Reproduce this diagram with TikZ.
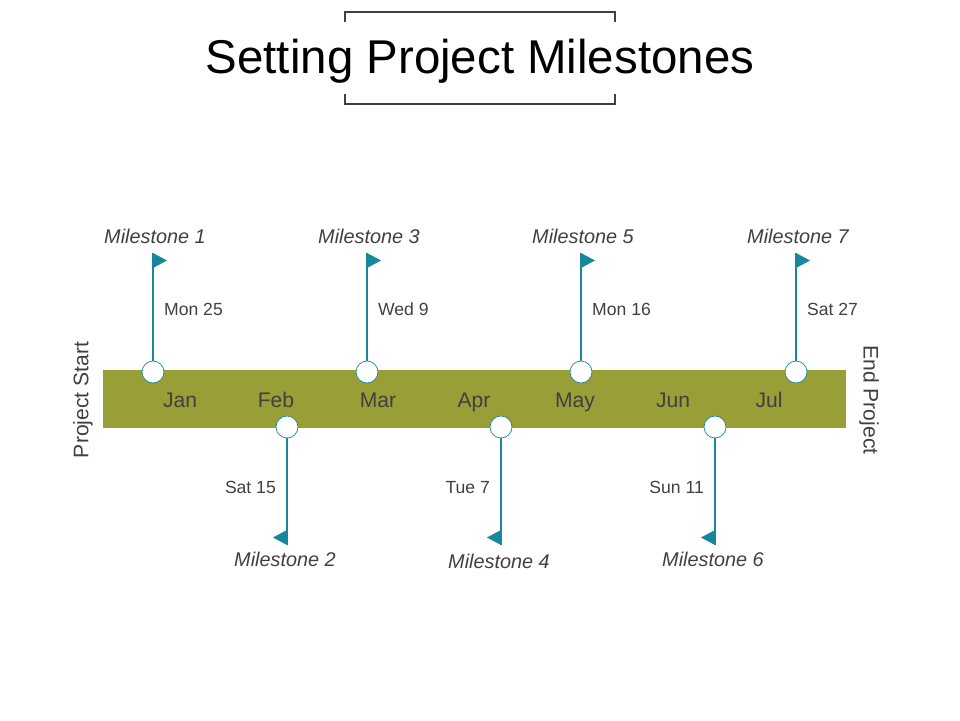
\documentclass[tikz,border=0pt]{standalone}
\usepackage{fontspec}
\setmainfont{Liberation Sans}
\usetikzlibrary{positioning}
\definecolor{oliven}{HTML}{9A9E37}
\definecolor{petrol}{HTML}{17889A}
\definecolor{tekst}{HTML}{404040}

\begin{document}
\begin{tikzpicture}[x=0.02cm,y=-0.02cm]
    \tikzset{
        dot/.style={circle, draw=petrol, fill=white, minimum size=0.44cm, inner sep=0pt},
        stem/.style={draw=petrol, line width=0.8pt},
        flag/.style={fill=petrol},
        mlab/.style={font=\fontsize{11.3}{13}\selectfont\itshape, text=tekst, anchor=base},
        dlab/.style={font=\fontsize{10}{12}\selectfont, text=tekst},
        month/.style={font=\fontsize{12}{14}\selectfont, text=tekst, anchor=base}
    }
    \useasboundingbox (0,0) rectangle (960,720);

    % Tittel
    \node[font=\fontsize{27}{32}\selectfont] (title) at (480,61) {Setting Project Milestones};
    \draw[tekst, line width=1pt] (345,22) -- (345,12) -- (615,12) -- (615,22);
    \draw[tekst, line width=1pt] (345,94) -- (345,104) -- (615,104) -- (615,94);

    % Tidslinje
    \fill[oliven] (103,370) rectangle (846,428);
    \node[rotate=90, font=\fontsize{12}{14}\selectfont, text=tekst] (start) at (83,400) {Project Start};
    \node[rotate=-90, font=\fontsize{12}{14}\selectfont, text=tekst] (end) at (869,400) {End Project};
    \foreach \m/\x in {Jan/180,Feb/276,Mar/378,Apr/474,May/575,Jun/673,Jul/769}
        \node[month] (\m) at (\x,407) {\m};

    % Milepæler over linjen
    \foreach \i/\x/\d in {1/153/Mon 25,3/367/Wed 9,5/581/Mon 16,7/796/Sat 27}{
        \node[dot] (d\i) at (\x,372) {};
        \coordinate (t\i) at (\x,253);
        \draw[stem] (d\i) -- (t\i);
        \fill[flag] (t\i) -- ++(14,7.5) -- ++(-14,7.5) -- cycle;
        \node[dlab, anchor=base west] (date\i) at (\x+5,315) {\d};
        \node[mlab] (ms\i) at (\x+2,243) {Milestone \i};
    }
    % Milepæler under linjen
    \foreach \i/\x/\d/\y in {2/287/Sat 15/566,4/501/Tue 7/568,6/715/Sun 11/566}{
        \node[dot] (d\i) at (\x,427) {};
        \coordinate (b\i) at (\x,545);
        \draw[stem] (d\i) -- (b\i);
        \fill[flag] (b\i) -- ++(-14,-7.5) -- ++(14,-7.5) -- cycle;
        \node[dlab, anchor=base east] (date\i) at (\x-5,493) {\d};
        \node[mlab] (ms\i) at (\x-2,\y) {Milestone \i};
    }
\end{tikzpicture}
\end{document}
